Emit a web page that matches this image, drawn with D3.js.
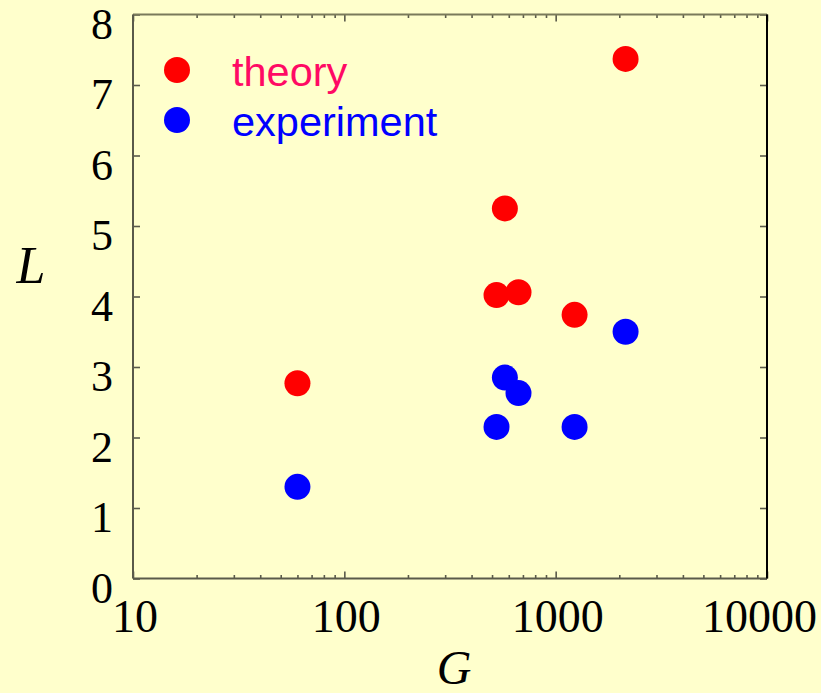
<!DOCTYPE html>
<html>
<head>
<meta charset="utf-8">
<script src="https://cdn.jsdelivr.net/npm/d3@7"></script>
<style>
  html, body { margin: 0; padding: 0; background: #ffffcc; }
  svg { display: block; }
</style>
</head>
<body>
<svg id="chart" width="821" height="693"></svg>
<script>
// Sample sizes G (shared by both series) and measured/predicted L
const gValues = [60, 525, 575, 667, 1229, 2142];
const theoryL = [2.77, 4.02, 5.25, 4.06, 3.74, 7.37];
const experimentL = [1.30, 2.15, 2.85, 2.63, 2.15, 3.50];

const xTickValues = [10, 100, 1000, 10000];
const xTickLabels = ["10", "100", "1000", "10000"];
const yTickValues = [0, 1, 2, 3, 4, 5, 6, 7, 8];

const seriesNames = ["theory", "experiment"];
const seriesColors = ["#ff0000", "#0000ff"];
const legendTextColors = ["#ff0a64", "#0000ff"];

const svg = d3.select("#chart");
const W = 821, H = 693;
const plot = { left: 133, right: 767, top: 14.5, bottom: 578.5 };

svg.append("rect").attr("width", W).attr("height", H).attr("fill", "#ffffcc");

const x = d3.scaleLog().domain([10, 10000]).range([plot.left, plot.right]);
const y = d3.scaleLinear().domain([0, 8]).range([plot.bottom, plot.top]);

const axisColor = "#5a5a4a";
const serif = "'Liberation Serif', 'Times New Roman', serif";

// minor and major ticks along the log axis (drawn inward)
const minorX = [];
for (let d = 10; d < 10000; d *= 10) for (let k = 2; k <= 9; k++) minorX.push(d * k);

const bottomAxis = d3.axisBottom(x).tickValues(xTickValues).tickSize(-7).tickFormat(() => "");
const bottomMinor = d3.axisBottom(x).tickValues(minorX).tickSize(-3.5).tickFormat(() => "");
const topAxis = d3.axisTop(x).tickValues(xTickValues).tickSize(-7).tickFormat(() => "");
const topMinor = d3.axisTop(x).tickValues(minorX).tickSize(-3.5).tickFormat(() => "");
const leftAxis = d3.axisLeft(y).tickValues(yTickValues).tickSize(-7).tickFormat(() => "");
const rightAxis = d3.axisRight(y).tickValues(yTickValues).tickSize(-7).tickFormat(() => "");

function styleAxis(g, color) {
  g.selectAll(".domain").remove();
  g.selectAll(".tick line").attr("stroke", color).attr("stroke-width", 1.6);
}

svg.append("g").attr("transform", `translate(0,${plot.bottom})`).call(bottomAxis).call(g => styleAxis(g, axisColor));
svg.append("g").attr("transform", `translate(0,${plot.bottom})`).call(bottomMinor).call(g => styleAxis(g, axisColor));
svg.append("g").attr("transform", `translate(0,${plot.top})`).call(topAxis).call(g => styleAxis(g, axisColor));
svg.append("g").attr("transform", `translate(0,${plot.top})`).call(topMinor).call(g => styleAxis(g, axisColor));
svg.append("g").attr("transform", `translate(${plot.left},0)`).call(leftAxis).call(g => styleAxis(g, axisColor));
svg.append("g").attr("transform", `translate(${plot.right},0)`).call(rightAxis).call(g => styleAxis(g, axisColor));

// frame
svg.append("line").attr("x1", plot.left).attr("x2", plot.right).attr("y1", plot.top).attr("y2", plot.top)
  .attr("stroke", "#7a7a5a").attr("stroke-width", 2);
svg.append("line").attr("x1", plot.left).attr("x2", plot.right).attr("y1", plot.bottom).attr("y2", plot.bottom)
  .attr("stroke", axisColor).attr("stroke-width", 2);
svg.append("line").attr("x1", plot.left).attr("x2", plot.left).attr("y1", plot.top).attr("y2", plot.bottom)
  .attr("stroke", axisColor).attr("stroke-width", 2);
svg.append("line").attr("x1", plot.right).attr("x2", plot.right).attr("y1", plot.top).attr("y2", plot.bottom)
  .attr("stroke", "#000").attr("stroke-width", 2);

// tick labels (the last one is pulled in so it stays inside the page)
const lastX = xTickValues.length - 1;
svg.append("g").selectAll("text").data(xTickValues).join("text")
  .attr("x", (d, i) => i === lastX ? 817 : x(d) + 2).attr("y", 632)
  .attr("text-anchor", (d, i) => i === lastX ? "end" : "middle")
  .attr("font-family", serif).attr("font-size", 46).attr("fill", "#000")
  .text((d, i) => xTickLabels[i]);

svg.append("g").selectAll("text").data(yTickValues).join("text")
  .attr("x", 113).attr("y", d => y(d) + 24)
  .attr("text-anchor", "end")
  .attr("font-family", serif).attr("font-size", 44).attr("fill", "#000")
  .text(d => d);

// axis titles
svg.append("text").attr("x", 31).attr("y", 283).attr("text-anchor", "middle")
  .attr("font-family", serif).attr("font-style", "italic").attr("font-size", 52).attr("fill", "#000").text("L");
svg.append("text").attr("x", 454).attr("y", 684).attr("text-anchor", "middle")
  .attr("font-family", serif).attr("font-style", "italic").attr("font-size", 48).attr("fill", "#000").text("G");

// data points
const seriesData = [theoryL, experimentL];
seriesData.forEach((vals, s) => {
  svg.append("g").selectAll("circle")
    .data(gValues.map((g, i) => ({ g, l: vals[i] })))
    .join("circle")
    .attr("cx", d => x(d.g)).attr("cy", d => y(d.l))
    .attr("r", 13)
    .attr("fill", seriesColors[s]);
});

// legend
const legend = svg.append("g");
seriesNames.forEach((name, i) => {
  const cy = 70 + i * 50;
  legend.append("circle").attr("cx", 177).attr("cy", cy).attr("r", 13).attr("fill", seriesColors[i]);
  legend.append("text").attr("x", 232).attr("y", cy + 16)
    .attr("font-family", "'Liberation Sans', Arial, sans-serif").attr("font-size", 41.5)
    .attr("fill", legendTextColors[i]).text(name);
});
</script>
</body>
</html>
